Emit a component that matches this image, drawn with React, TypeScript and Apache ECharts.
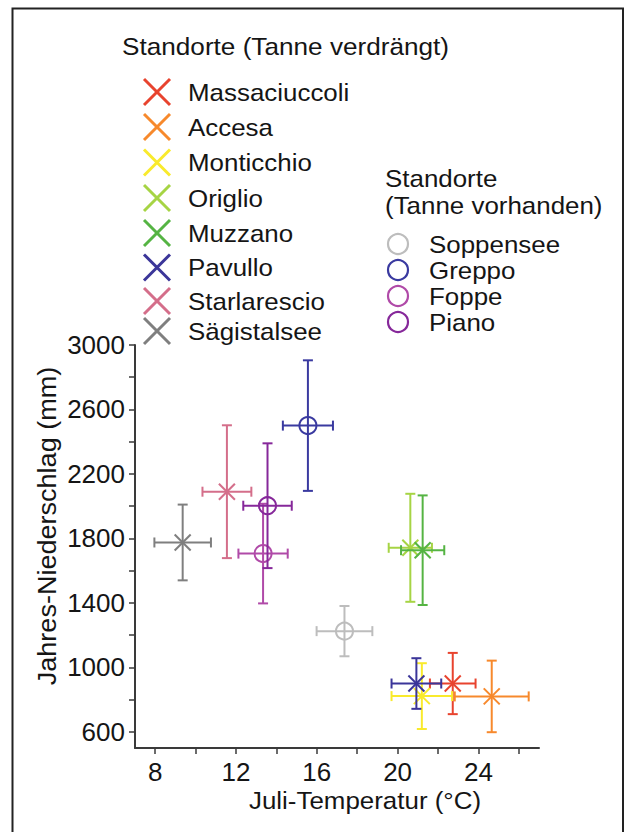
import React, { useEffect, useRef } from "react";
import * as echarts from "echarts";

// Sites where fir was displaced (X markers)
const crossSites = ["Massaciuccoli", "Accesa", "Monticchio", "Origlio", "Muzzano", "Pavullo", "Starlarescio", "Sägistalsee"];
const crossColors = ["#e8432e", "#f7892c", "#f9ea2c", "#a6d444", "#55b443", "#3b3599", "#d46e8a", "#7f7f7f"];
const crossTemp = [22.73, 24.66, 21.2, 20.63, 21.24, 20.93, 11.55, 9.36];
const crossTempErr = [1.13, 1.83, 1.5, 1.07, 1.07, 1.23, 1.21, 1.4];
const crossPrecip = [900, 820, 822, 1742, 1727, 900, 2090, 1775];
const crossPrecipErr = [190, 222, 204, 335, 340, 157, 412, 235];

// Sites where fir is present (circle markers)
const circleSites = ["Soppensee", "Greppo", "Foppe", "Piano"];
const circleColors = ["#bdbdbd", "#3a3aa0", "#b04aa8", "#86289a"];
const circleTemp = [17.37, 15.56, 13.34, 13.56];
const circleTempErr = [1.38, 1.24, 1.22, 1.2];
const circlePrecip = [1225, 2500, 1706, 2003];
const circlePrecipErr = [156, 405, 309, 387];

const xTicks = [8, 10, 12, 14, 16, 18, 20, 22, 24, 26];
const xLabels = [8, 12, 16, 20, 24];
const yTicks = [600, 800, 1000, 1200, 1400, 1600, 1800, 2000, 2200, 2400, 2600, 2800, 3000];
const yLabels = [600, 1000, 1400, 1800, 2200, 2600, 3000];

const FONT = "'Liberation Sans', Arial, sans-serif";
const TXT = "#151515";

function makeSeries(name: string, color: string, kind: "x" | "o", x: number, xe: number, y: number, ye: number) {
  return {
    type: "custom",
    name,
    data: [[x, y, xe, ye]],
    encode: { x: 0, y: 1 },
    renderItem: (_p: any, api: any) => {
      const vx = api.value(0), vy = api.value(1), ex = api.value(2), ey = api.value(3);
      const c = api.coord([vx, vy]);
      const l = api.coord([vx - ex, vy]);
      const r = api.coord([vx + ex, vy]);
      const t = api.coord([vx, vy + ey]);
      const b = api.coord([vx, vy - ey]);
      const cap = 5;
      const st = { stroke: color, lineWidth: 2, fill: "none" };
      const ln = (x1: number, y1: number, x2: number, y2: number) => ({ type: "line", shape: { x1, y1, x2, y2 }, style: st });
      const children: any[] = [
        ln(l[0], l[1], r[0], r[1]),
        ln(t[0], t[1], b[0], b[1]),
        ln(l[0], l[1] - cap, l[0], l[1] + cap),
        ln(r[0], r[1] - cap, r[0], r[1] + cap),
        ln(t[0] - cap, t[1], t[0] + cap, t[1]),
        ln(b[0] - cap, b[1], b[0] + cap, b[1]),
      ];
      if (kind === "x") {
        const s = 8;
        children.push(ln(c[0] - s, c[1] - s, c[0] + s, c[1] + s));
        children.push(ln(c[0] - s, c[1] + s, c[0] + s, c[1] - s));
      } else {
        children.push({ type: "circle", shape: { cx: c[0], cy: c[1], r: 8.5 }, style: { stroke: color, lineWidth: 2, fill: "none" } });
      }
      return { type: "group", children };
    },
  };
}

export default function App() {
  const ref = useRef<HTMLDivElement>(null);
  useEffect(() => {
    if (!ref.current) return;
    const chart = echarts.init(ref.current, undefined, { renderer: "svg" });

    const series: any[] = [];
    circleSites.forEach((n, i) =>
      series.push(makeSeries(n, circleColors[i], "o", circleTemp[i], circleTempErr[i], circlePrecip[i], circlePrecipErr[i]))
    );
    crossSites.forEach((n, i) =>
      series.push(makeSeries(n, crossColors[i], "x", crossTemp[i], crossTempErr[i], crossPrecip[i], crossPrecipErr[i]))
    );

    const graphics: any[] = [];
    // frame
    graphics.push({ type: "rect", shape: { x: 12.5, y: 8.5, width: 610.5, height: 900 }, style: { fill: "none", stroke: "#222", lineWidth: 2 }, silent: true });
    const txt = (text: string, x: number, y: number, size = 24, scaleX = 1.08, extra: any = {}) => ({
      type: "text",
      x,
      y,
      scaleX,
      style: { text, fill: TXT, font: `${size}px ${FONT}`, textAlign: "left", textVerticalAlign: "middle", ...extra.style },
      ...extra.el,
    });
    graphics.push(txt("Standorte (Tanne verdrängt)", 122, 46, 24, 1.09));
    const rowY = [92, 127, 162.5, 198, 233, 267.5, 301, 331];
    crossSites.forEach((n, i) => {
      const cx = 157, cy = rowY[i], h = 13;
      graphics.push({ type: "line", shape: { x1: cx - h, y1: cy - h, x2: cx + h, y2: cy + h }, style: { stroke: crossColors[i], lineWidth: 3 } });
      graphics.push({ type: "line", shape: { x1: cx - h, y1: cy + h, x2: cx + h, y2: cy - h }, style: { stroke: crossColors[i], lineWidth: 3 } });
      graphics.push(txt(n, 188, cy));
    });
    graphics.push(txt("Standorte", 385, 178));
    graphics.push(txt("(Tanne vorhanden)", 385, 205));
    const rowY2 = [244, 270, 296, 322];
    circleSites.forEach((n, i) => {
      graphics.push({ type: "circle", shape: { cx: 398, cy: rowY2[i], r: 10 }, style: { stroke: circleColors[i], lineWidth: 2.2, fill: "none" } });
      graphics.push(txt(n, 429, rowY2[i]));
    });
    // axis titles
    graphics.push(txt("Juli-Temperatur (°C)", 365, 800, 24, 1.08, { style: { textAlign: "center" } }));
    graphics.push(txt("Jahres-Niederschlag (mm)", 47, 526, 26, 1.04, { style: { textAlign: "center" }, el: { rotation: Math.PI / 2 } }));

    const axisCommon = {
      axisLine: { show: true, lineStyle: { color: "#3a3a3a", width: 2 } },
      axisTick: { show: true, inside: false, length: 6, lineStyle: { color: "#3a3a3a", width: 1.5 } },
      splitLine: { show: false },
      axisLabel: { color: TXT, fontSize: 26, fontFamily: FONT, formatter: (v: number) => String(v) },
    };

    chart.setOption({
      animation: false,
      backgroundColor: "#ffffff",
      grid: { left: 135, right: 90, top: 345, bottom: 84, containLabel: false, outerBoundsMode: "none" },
      xAxis: {
        type: "value",
        min: 7,
        max: 27,
        ...axisCommon,
        axisTick: { ...axisCommon.axisTick, customValues: xTicks },
        axisLabel: { ...axisCommon.axisLabel, customValues: xLabels, margin: 11 },
      },
      yAxis: {
        type: "value",
        min: 500,
        max: 3000,
        ...axisCommon,
        axisTick: { ...axisCommon.axisTick, customValues: yTicks },
        axisLabel: { ...axisCommon.axisLabel, customValues: yLabels, margin: 10 },
      },
      series,
      graphic: graphics,
    });
    return () => chart.dispose();
  }, []);
  return <div ref={ref} style={{ position: "absolute", left: 0, top: 0, width: 629, height: 832 }} />;
}
